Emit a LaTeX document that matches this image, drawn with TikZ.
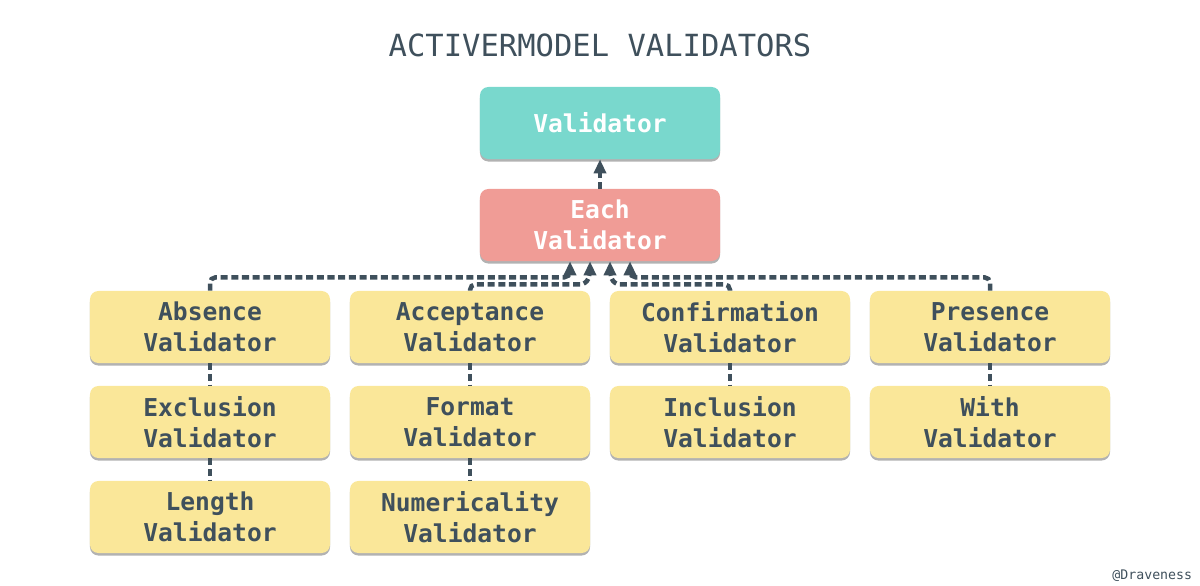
\documentclass[tikz,border=0pt]{standalone}
\usepackage{fontspec}
\setmonofont{DejaVu Sans Mono}
\usetikzlibrary{calc,shadows,arrows.meta}
\definecolor{ink}{HTML}{3F505C}
\definecolor{teal}{HTML}{79D8CD}
\definecolor{salmon}{HTML}{F09C96}
\definecolor{sand}{HTML}{FAE799}
\begin{document}
\begin{tikzpicture}[x=0.025cm,y=0.025cm,
	box/.style={rounded corners=6, minimum width=6cm, minimum height=1.8cm, align=center, inner sep=0pt,
		text=ink, font=\ttfamily\bfseries\fontsize{17.5}{22}\selectfont,
		drop shadow={shadow xshift=0pt, shadow yshift=-1.8pt, opacity=0.3, fill=black}},
	child/.style={box, fill=sand},
	link/.style={draw=ink, line width=3.2pt, dash pattern=on 5pt off 2.6pt},
	uplink/.style={link, rounded corners=4, -{Triangle[length=10pt,width=8.5pt]}}]
	\useasboundingbox (0,0) rectangle (1200,585);
	\node[text=ink, font=\ttfamily\fontsize{21.7}{26}\selectfont] (title) at (600,540) {ACTIVERMODEL VALIDATORS};
	\node[box, fill=teal, text=white] (validator) at (600,462) {Validator};
	\node[box, fill=salmon, text=white] (each) at (600,360) {Each\\Validator};
	\node[child] (absence) at (210,258) {Absence\\Validator};
	\node[child] (acceptance) at (470,258) {Acceptance\\Validator};
	\node[child] (confirmation) at (730,258) {Confirmation\\Validator};
	\node[child] (presence) at (990,258) {Presence\\Validator};
	\node[child] (exclusion) at (210,163) {Exclusion\\Validator};
	\node[child] (format) at (470,163) {Format\\Validator};
	\node[child] (inclusion) at (730,163) {Inclusion\\Validator};
	\node[child] (with) at (990,163) {With\\Validator};
	\node[child] (length) at (210,68) {Length\\Validator};
	\node[child] (numericality) at (470,68) {Numericality\\Validator};
	\node[text=ink, font=\ttfamily\fontsize{9.4}{11}\selectfont, anchor=east] (author) at (1197,9) {@Draveness};
	\draw[uplink] (each.north) -- (validator.south);
	\draw[uplink] (absence.north) |- ($(each.south)+(-30,-16)$) -- ($(each.south)+(-30,0)$);
	\draw[uplink] (acceptance.north) |- ($(each.south)+(-14,-23)$) -- ($(each.south)+(-10,-13)$) -- ($(each.south)+(-10,0)$);
	\draw[uplink] (confirmation.north) |- ($(each.south)+(14,-23)$) -- ($(each.south)+(10,-13)$) -- ($(each.south)+(10,0)$);
	\draw[uplink] (presence.north) |- ($(each.south)+(30,-16)$) -- ($(each.south)+(30,0)$);
	\draw[link] (absence) -- (exclusion);
	\draw[link] (exclusion) -- (length);
	\draw[link] (acceptance) -- (format);
	\draw[link] (format) -- (numericality);
	\draw[link] (confirmation) -- (inclusion);
	\draw[link] (presence) -- (with);
\end{tikzpicture}
\end{document}
